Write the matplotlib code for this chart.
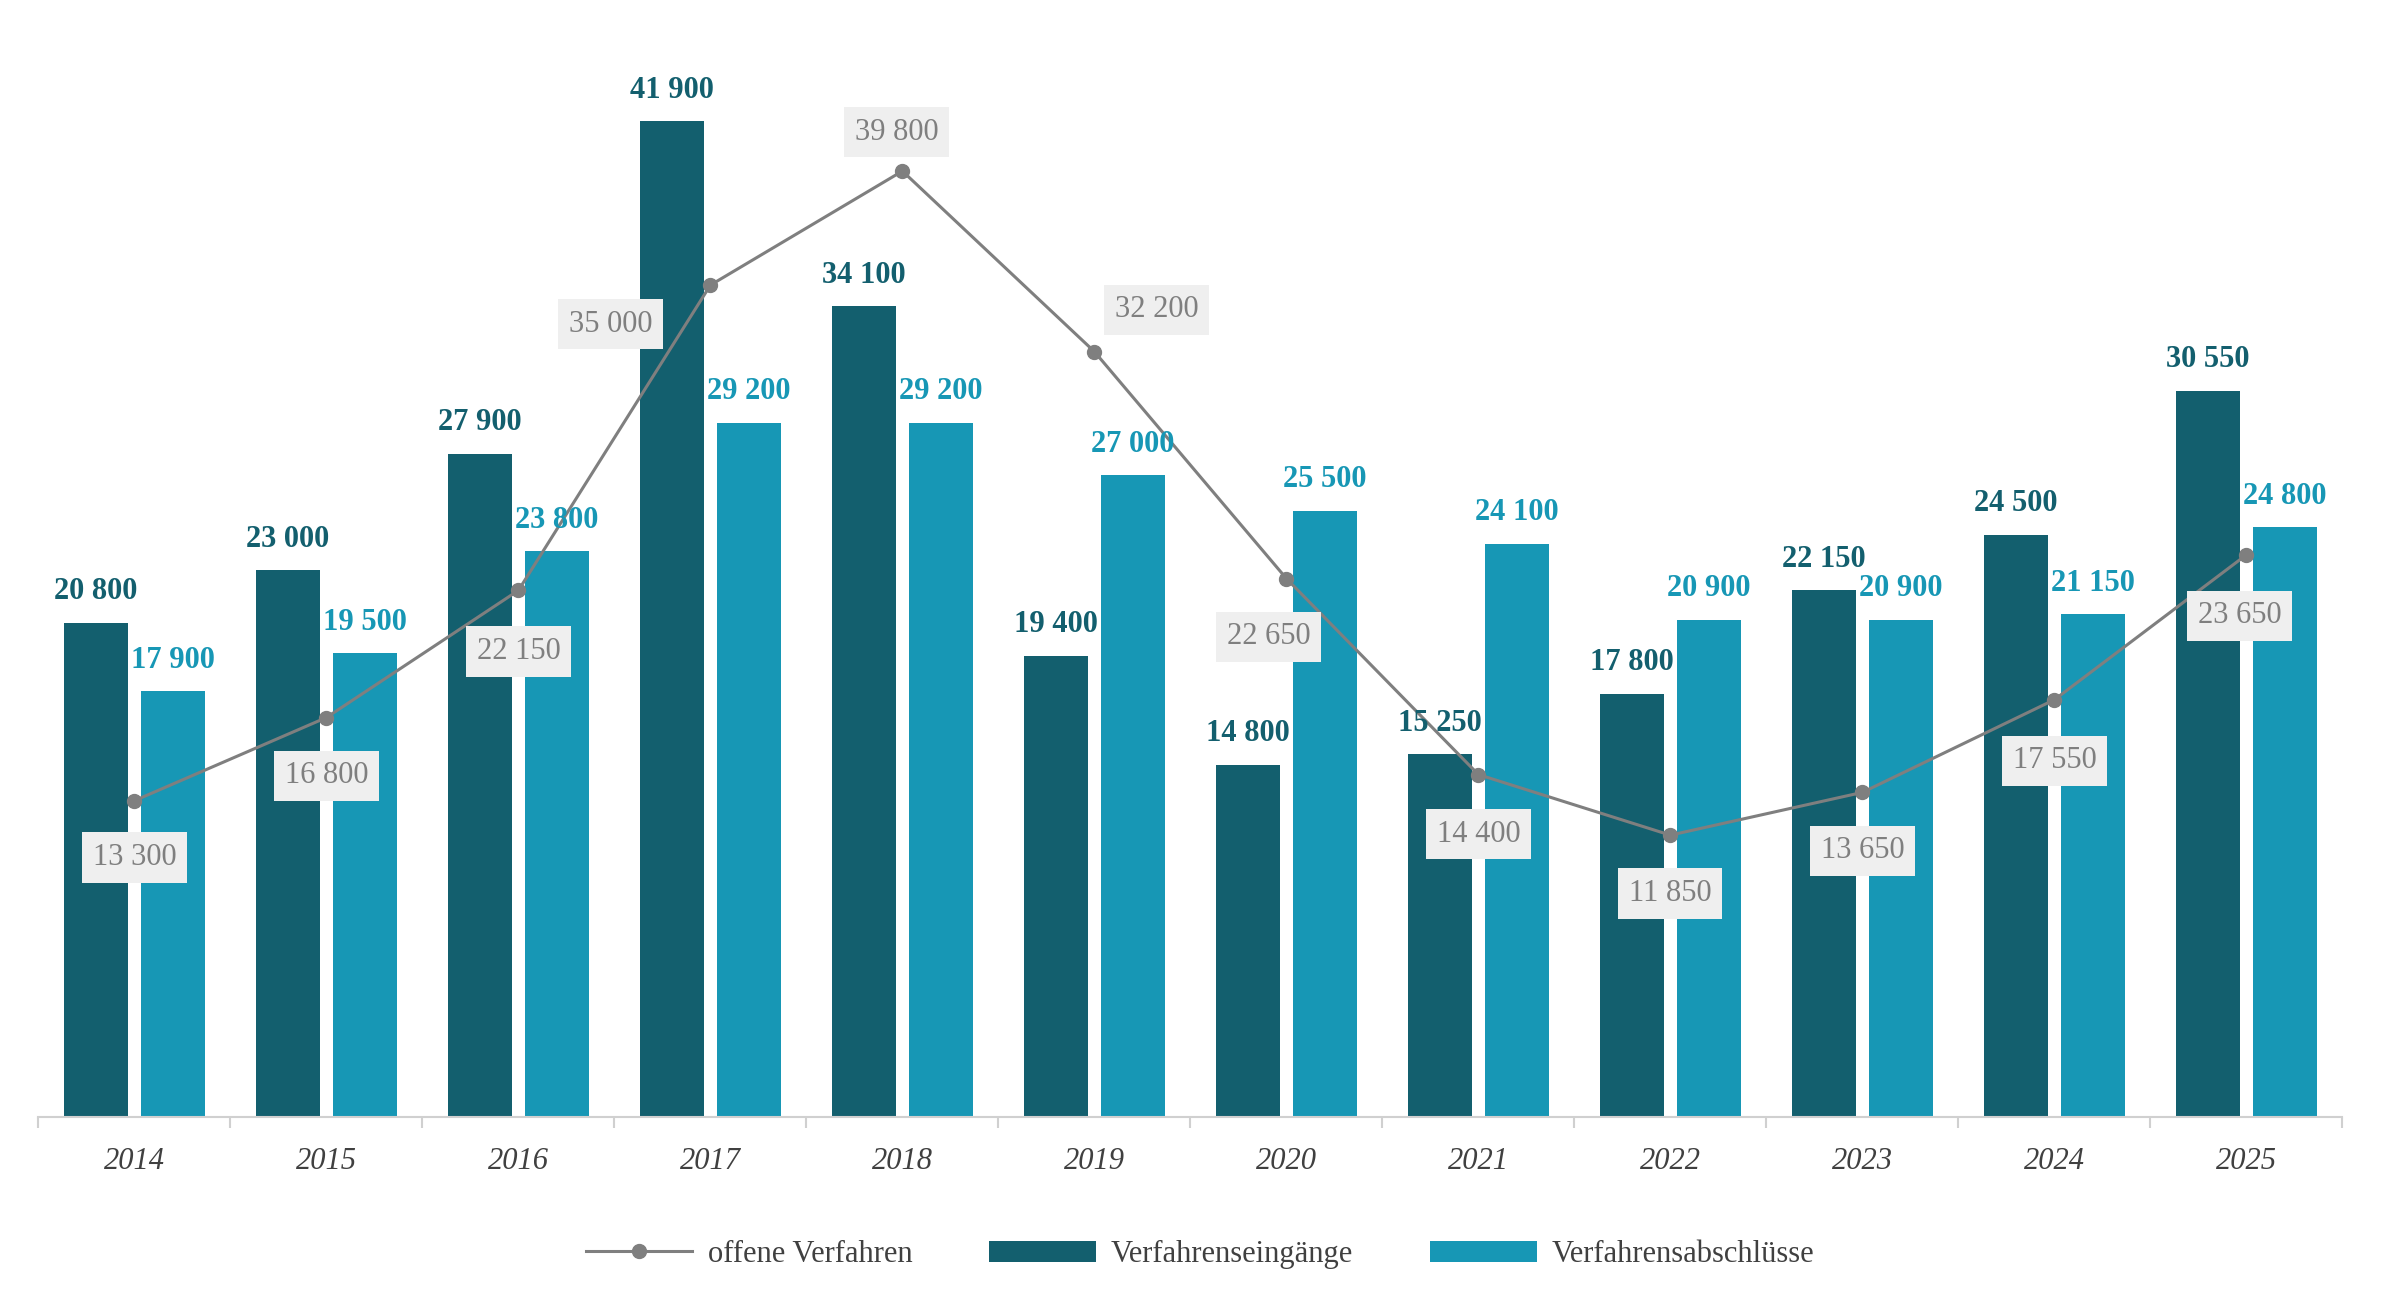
import matplotlib
matplotlib.use("Agg")
import matplotlib.pyplot as plt
import numpy as np

years = ["2014", "2015", "2016", "2017", "2018", "2019", "2020", "2021", "2022", "2023", "2024", "2025"]
eingaenge = [20800, 23000, 27900, 41900, 34100, 19400, 14800, 15250, 17800, 22150, 24500, 30550]
abschluesse = [17900, 19500, 23800, 29200, 29200, 27000, 25500, 24100, 20900, 20900, 21150, 24800]
offen = [13300, 16800, 22150, 35000, 39800, 32200, 22650, 14400, 11850, 13650, 17550, 23650]

# label offsets (points) for the open-case labels
offen_dx = [0, 0, 0, -72, -4, 45, -13, 0, 0, 0, 0, -5]
offen_dy = [-41, -42, -44, -28, 28, 30, -42, -43, -42, -42, -44, -44]

DARK = "#135f6e"
LIGHT = "#1797b5"
GREY = "#7f7f7f"


def fmt(v):
    return f"{v:,}".replace(",", " ")


plt.rcParams["font.family"] = ["Liberation Serif", "DejaVu Serif"]

fig = plt.figure(figsize=(24, 13), dpi=100)
ax = fig.add_axes([0.016, 0.141, 0.96, 0.859])

x = np.arange(len(years))
w = 0.335
off = 0.2
ax.bar(x - off, eingaenge, w, color=DARK, label="Verfahrenseingänge")
ax.bar(x + off, abschluesse, w, color=LIGHT, label="Verfahrensabschlüsse")
ax.plot(x, offen, color=GREY, lw=2.2, marker="o", ms=10, label="offene Verfahren")

for i in range(len(years)):
    ax.annotate(fmt(eingaenge[i]), (x[i] - off, eingaenge[i]), xytext=(0, 12),
                textcoords="offset points", ha="center", va="bottom",
                fontsize=22, fontweight="bold", color=DARK)
    ax.annotate(fmt(abschluesse[i]), (x[i] + off, abschluesse[i]), xytext=(0, 12),
                textcoords="offset points", ha="center", va="bottom",
                fontsize=22, fontweight="bold", color=LIGHT)
    ax.annotate(fmt(offen[i]), (x[i], offen[i]), xytext=(offen_dx[i], offen_dy[i]),
                textcoords="offset points", ha="center", va="center",
                fontsize=22, color=GREY,
                bbox=dict(boxstyle="square,pad=0.35", fc="#efefef", ec="none"))

ax.set_xlim(-0.5, len(years) - 0.5)
ax.set_ylim(0, 47000)
ax.set_yticks([])
for s in ["top", "right", "left"]:
    ax.spines[s].set_visible(False)
ax.spines["bottom"].set_color("#d0d0d0")
ax.spines["bottom"].set_linewidth(1.5)
ax.set_xticks(x)
ax.set_xticklabels(years, fontsize=22, style="italic", color="#404040")
ax.tick_params(axis="x", which="major", length=0, pad=22)
ax.set_xticks(np.arange(-0.5, len(years), 1), minor=True)
ax.tick_params(axis="x", which="minor", length=8, color="#d0d0d0", width=1.5)

fig.legend(loc="center", bbox_to_anchor=(0.5, 0.035), ncol=3, frameon=False,
           fontsize=22, labelcolor="#404040", handlelength=3.5, columnspacing=2.5,
           handletextpad=0.5)

fig.savefig("out.png", dpi=100)
